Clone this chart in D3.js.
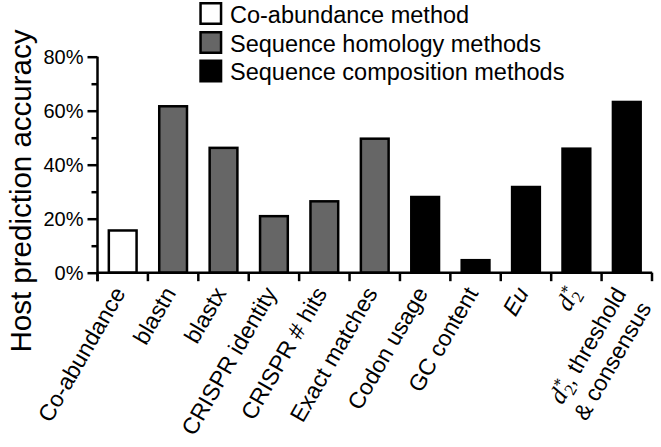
<!DOCTYPE html>
<html>
<head>
<meta charset="utf-8">
<script src="https://cdn.jsdelivr.net/npm/d3@7"></script>
<style>
  html, body { margin: 0; padding: 0; background: #fff; }
  svg { display: block; }
  text { font-family: "Liberation Sans", Arial, sans-serif; fill: #000; }
</style>
</head>
<body>
<svg id="chart" width="661" height="447"></svg>
<script>
// ---- data ----
const categories = ["Co-abundance", "blastn", "blastx", "CRISPR identity", "CRISPR # hits",
  "Exact matches", "Codon usage", "GC content", "Eu", "d2*", "d2*, threshold & consensus"];
const values = [16.1, 62.1, 46.7, 21.4, 26.9, 50.1, 28.5, 5.1, 32.2, 46.4, 63.7];
const groupOf = [0, 1, 1, 1, 1, 1, 2, 2, 2, 2, 2];
const groupNames = ["Co-abundance method", "Sequence homology methods", "Sequence composition methods"];
const groupColors = ["#ffffff", "#666666", "#000000"];
const yTicks = [0, 20, 40, 60, 80];
const yMinorTicks = [10, 30, 50, 70];
const yTitle = "Host prediction accuracy";

// ---- layout ----
const svg = d3.select("#chart");
const x0 = 97.5, x1 = 652, yBase = 272.7, yTop = 56.7;
const x = d3.scaleBand().domain(categories).range([x0, x1]).paddingInner(0.4).paddingOuter(0.2);
const y = d3.scaleLinear().domain([0, 80]).range([yBase, yTop]);
const stroke = 2.5;

// bars
svg.append("g").selectAll("rect").data(categories).join("rect")
  .attr("x", d => x(d) + stroke / 2)
  .attr("width", x.bandwidth() - stroke)
  .attr("y", (d, i) => y(values[i]) + stroke / 2)
  .attr("height", (d, i) => y(0) - y(values[i]) - stroke / 2)
  .attr("fill", (d, i) => groupColors[groupOf[i]])
  .attr("stroke", "#000").attr("stroke-width", stroke);

// y axis
const yAxis = svg.append("g").attr("transform", `translate(${x0},0)`)
  .call(d3.axisLeft(y).tickValues(yTicks).tickFormat(d => d + "%").tickSize(10).tickPadding(4));
yAxis.select(".domain").remove();
yAxis.selectAll(".tick line").attr("stroke-width", stroke);
yAxis.selectAll(".tick text").style("font-size", "20px").attr("dy", "0.36em");
svg.append("g").attr("transform", `translate(${x0},0)`)
  .call(d3.axisLeft(y).tickValues(yMinorTicks).tickFormat("").tickSize(6))
  .call(g => g.select(".domain").remove())
  .selectAll(".tick line").attr("stroke-width", stroke);
svg.append("line").attr("x1", x0).attr("x2", x0).attr("y1", yTop).attr("y2", yBase + 8.5)
  .attr("stroke", "#000").attr("stroke-width", stroke);

// x axis line and boundary ticks
svg.append("line").attr("x1", x0).attr("x2", x1 + 0.2).attr("y1", yBase).attr("y2", yBase)
  .attr("stroke", "#000").attr("stroke-width", stroke);
const bounds = categories.map(c => x(c) - x.step() * x.paddingInner() / 2).concat([x1]);
bounds[0] = x0;
svg.append("g").selectAll("line").data(bounds).join("line")
  .attr("x1", d => d).attr("x2", d => d).attr("y1", yBase).attr("y2", yBase + 8.5)
  .attr("stroke", "#000").attr("stroke-width", stroke);

// y title
svg.append("text")
  .attr("transform", `translate(31,191) rotate(-90)`)
  .attr("text-anchor", "middle").style("font-size", "29.5px").text(yTitle);

// x labels
const ang = -60;
const lg = svg.append("g");
categories.forEach((c, i) => {
  const cx = x(c) + x.bandwidth() / 2;
  const multi = c.length > 3 && c.startsWith("d2*");
  const t = lg.append("text")
    .attr("transform", `translate(${cx + (multi ? -7.5 : -3.5)},289) rotate(${ang})`)
    .attr("text-anchor", "end").style("font-size", "23px");
  if (c === "Eu") {
    t.append("tspan").attr("dy", "0.35em").style("font-style", "italic").text("Eu");
  } else if (c.startsWith("d2*")) {
    t.append("tspan").attr("dy", "0.35em")
      .style("font-family", "'Liberation Serif', serif").style("font-style", "italic")
      .style("font-size", "25px").text("d");
    t.append("tspan").attr("dy", 5).attr("dx", 1)
      .style("font-family", "'Liberation Serif', serif").style("font-size", "17px").text("2");
    t.append("tspan").attr("dy", -13).attr("dx", -8.5)
      .style("font-family", "'Liberation Serif', serif").style("font-size", "17px").text("*");
    if (multi) {
      t.append("tspan").attr("dy", 8).attr("dx", 0).text(", threshold");
      t.append("tspan").attr("x", 0).attr("dy", 29).text("& consensus");
    }
  } else {
    t.append("tspan").attr("dy", "0.35em").text(c);
  }
});

// legend
const lgd = svg.append("g");
const rowTop = [2, 31, 59.5];
groupNames.forEach((n, i) => {
  lgd.append("rect").attr("x", 199.3 + stroke / 2).attr("y", rowTop[i] + stroke / 2)
    .attr("width", 23 - stroke).attr("height", 23 - stroke)
    .attr("fill", groupColors[i]).attr("stroke", "#000").attr("stroke-width", stroke);
  lgd.append("text").attr("x", 230).attr("y", rowTop[i] + 20.5)
    .style("font-size", "23.5px").text(n);
});
</script>
</body>
</html>
